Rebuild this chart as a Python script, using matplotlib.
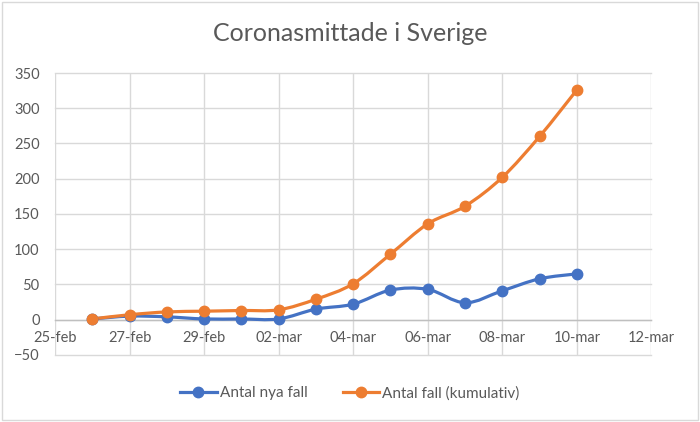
import datetime as dt
import numpy as np
import matplotlib
matplotlib.use("Agg")
import matplotlib.pyplot as plt
import matplotlib.dates as mdates
from matplotlib.path import Path
from matplotlib.patches import PathPatch, Rectangle

# data
dates = [dt.date(2020, 2, 26) + dt.timedelta(days=i) for i in range(14)]
nya_fall = [1, 5, 4, 1, 1, 1, 15, 22, 42, 43, 24, 41, 58, 65]
kumulativ = [1, 7, 11, 12, 13, 14, 29, 51, 93, 136, 161, 202, 260, 326]
series_names = ["Antal nya fall", "Antal fall (kumulativ)"]
series_colors = ["#4472C4", "#ED7D31"]

text_color = "#595959"
grid_color = "#D9D9D9"

plt.rcParams["font.family"] = ["Lato", "DejaVu Sans"]


def smooth_path(x, y):
    # excel-like smoothed line: catmull-rom segments as cubic beziers
    pts = np.column_stack([x, y])
    ext = np.vstack([pts[0], pts, pts[-1]])
    verts = [pts[0]]
    codes = [Path.MOVETO]
    for i in range(len(pts) - 1):
        p0, p1, p2, p3 = ext[i], ext[i + 1], ext[i + 2], ext[i + 3]
        c1 = p1 + (p2 - p0) / 6
        c2 = p2 - (p3 - p1) / 6
        verts += [c1, c2, p2]
        codes += [Path.CURVE4] * 3
    return Path(verts, codes)


fig = plt.figure(figsize=(7, 4.22), dpi=100)
fig.patches.append(Rectangle((0.003, 0.004), 0.994, 0.992, transform=fig.transFigure,
                             fill=False, edgecolor=grid_color, linewidth=1))
ax = fig.add_axes([0.0786, 0.159, 0.852, 0.668])

x = mdates.date2num(dates)
for vals, name, col in zip([nya_fall, kumulativ], series_names, series_colors):
    ax.add_patch(PathPatch(smooth_path(x, vals), fill=False, edgecolor=col,
                           linewidth=2.3, zorder=3, capstyle="round"))
    ax.plot(x, vals, marker="o", markersize=7.5, linestyle="none",
            color=col, zorder=4, label=name)

ax.set_xlim(mdates.date2num(dt.date(2020, 2, 25)), mdates.date2num(dt.date(2020, 3, 12)))
ax.set_ylim(-50, 350)
ax.xaxis.set_major_formatter(plt.FuncFormatter(
    lambda v, p: mdates.num2date(v).strftime("%d-%b").lower()))
ax.set_xticks(mdates.date2num([dt.date(2020, 2, 25) + dt.timedelta(days=2 * i) for i in range(9)]))
ax.set_yticks(range(-50, 351, 50))

ax.grid(True, color=grid_color, linewidth=1)
for gl in ax.get_xgridlines() + ax.get_ygridlines():
    gl.set_clip_on(False)
for s in ["top", "right", "left"]:
    ax.spines[s].set_visible(False)
ax.spines["bottom"].set_position(("data", 0))
ax.spines["bottom"].set_color("#BFBFBF")
ax.spines["bottom"].set_linewidth(1)
ax.tick_params(axis="both", length=0, labelsize=10.5, labelcolor=text_color)
ax.tick_params(axis="y", pad=11)
ax.tick_params(axis="x", pad=8.5)

fig.text(0.5, 0.92, "Coronasmittade i Sverige", ha="center", va="center",
         fontsize=18, color=text_color)

# legend: line with marker
leg_handles = []
for name, col in zip(series_names, series_colors):
    leg_handles.append(plt.Line2D([], [], color=col, marker="o", markersize=7.5,
                                  linewidth=2.3, label=name))
fig.legend(handles=leg_handles, loc="center", bbox_to_anchor=(0.5, 0.068), ncol=2,
           frameon=False, fontsize=11, labelcolor=text_color, handlelength=2.4,
           handletextpad=0.2, columnspacing=2.3)

fig.savefig("out.png", dpi=100)
